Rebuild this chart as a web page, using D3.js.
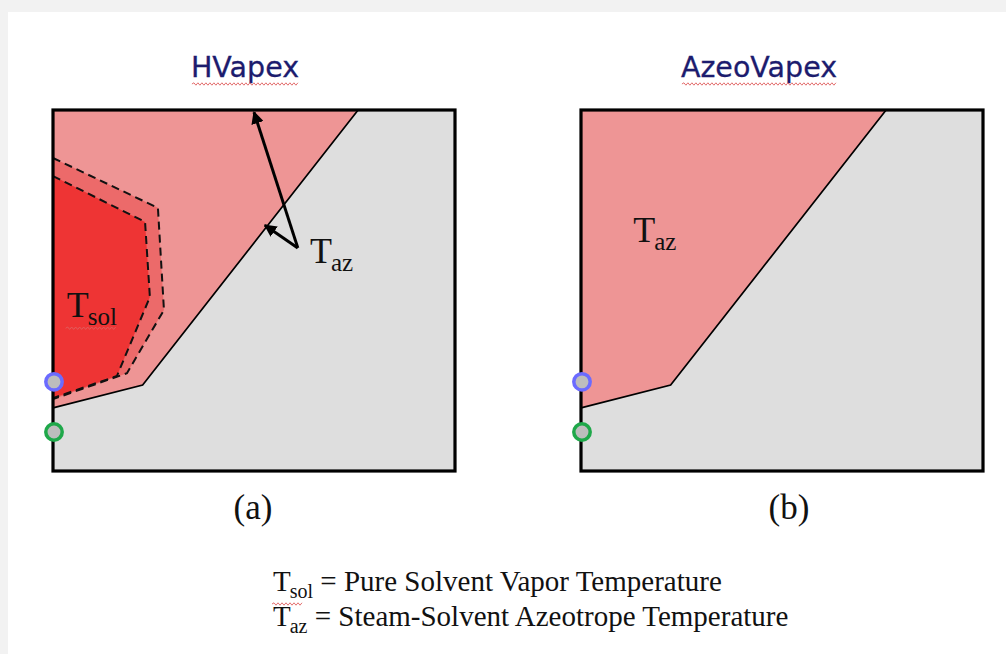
<!DOCTYPE html>
<html>
<head>
<meta charset="utf-8">
<script src="https://cdn.jsdelivr.net/npm/d3@7"></script>
<style>
  html, body { margin: 0; padding: 0; background: #f2f2f2; }
  svg { display: block; }
</style>
</head>
<body>
<svg id="chart" width="1006" height="654"></svg>
<script>
// ---------- DATA (diagram coordinates, 0..100 on both axes) ----------
const panelIds    = ["a", "b"];
const panelTitles = ["HVapex", "AzeoVapex"];
const panelLabels = ["(a)", "(b)"];

// azeotrope-temperature region boundary (same in both panels)
const azBoundary = [[75.9, 100], [22.3, 23.8], [0, 17.5]];

// pure solvent vapour-temperature zone (panel a only)
const solOuter = [[0, 86.7], [26.1, 72.9], [27.6, 44.6], [18.4, 27.1], [0, 19.9]];
const solInner = [[0, 81.7], [22.9, 69.0], [24.1, 48.2], [15.9, 26.3], [0, 20.2]];

// well markers on the left edge: [y, kind]
const wellY     = [24.7, 10.8];
const wellKinds = ["injector", "producer"];

// arrows in panel a: from vertex to tips
const arrowFrom = [60.9, 61.8];
const arrowTips = [[50.0, 99.4], [52.7, 68.1]];

// region labels
const labelMain = ["T", "T", "T"];
const labelSub  = ["az", "sol", "az"];
const labelPanel = ["a", "a", "b"];
const labelPos  = [[63.9, 57.6], [3.4, 42.6], [13.0, 63.4]];

// legend
const legendSym  = ["sol", "az"];
const legendText = [" = Pure Solvent Vapor Temperature", " = Steam-Solvent Azeotrope Temperature"];

// ---------- LAYOUT ----------
const W = 1006, H = 654;
const boxW = 402, boxH = 361, boxTop = 110;
const boxLeft = { a: 53, b: 581 };
const titleX = { a: 245, b: 759 };
const subLabelX = { a: 253, b: 789 };

const svg = d3.select("#chart");
svg.append("rect").attr("width", W).attr("height", H).attr("fill", "#f2f2f2");
svg.append("rect").attr("x", 8).attr("y", 12).attr("width", W - 8).attr("height", H - 12).attr("fill", "#ffffff");

const defs = svg.append("defs");
defs.append("marker")
  .attr("id", "arrowhead")
  .attr("viewBox", "0 0 10 10")
  .attr("refX", 9).attr("refY", 5)
  .attr("markerWidth", 4.2).attr("markerHeight", 4.2)
  .attr("orient", "auto")
  .append("path").attr("d", "M0,0 L10,5 L0,10 z").attr("fill", "#000");

function wavy(g, x0, x1, y) {
  let d = `M${x0},${y}`;
  let up = true;
  for (let x = x0 + 2; x <= x1; x += 2) { d += ` L${x},${y + (up ? -1.2 : 1.2)}`; up = !up; }
  g.append("path").attr("d", d).attr("fill", "none").attr("stroke", "#e06060").attr("stroke-width", 0.9);
}

panelIds.forEach((id, i) => {
  const x = d3.scaleLinear().domain([0, 100]).range([boxLeft[id], boxLeft[id] + boxW]);
  const y = d3.scaleLinear().domain([0, 100]).range([boxTop + boxH, boxTop]);
  const g = svg.append("g");
  const line = d3.line().x(d => x(d[0])).y(d => y(d[1]));

  // grey background
  g.append("rect").attr("x", x(0)).attr("y", y(100)).attr("width", x(100) - x(0)).attr("height", y(0) - y(100))
    .attr("fill", "#dedede");

  // azeotrope region polygon
  const azPoly = [[0, 100]].concat(azBoundary);
  g.append("path").attr("d", line(azPoly) + "Z").attr("fill", "#ee9595");
  g.append("path").attr("d", line(azBoundary)).attr("fill", "none").attr("stroke", "#000").attr("stroke-width", 1.7);

  if (id === "a") {
    g.append("path").attr("d", line(solOuter) + "Z").attr("fill", "#ec6a6a");
    g.append("path").attr("d", line(solInner) + "Z").attr("fill", "#ee3434");
    [solOuter, solInner].forEach(p => {
      g.append("path").attr("d", line(p)).attr("fill", "none").attr("stroke", "#111")
        .attr("stroke-width", 2).attr("stroke-dasharray", "8,5");
    });
    arrowTips.forEach(t => {
      g.append("line")
        .attr("x1", x(arrowFrom[0])).attr("y1", y(arrowFrom[1]))
        .attr("x2", x(t[0])).attr("y2", y(t[1]))
        .attr("stroke", "#000").attr("stroke-width", 3)
        .attr("stroke-linejoin", "miter")
        .attr("marker-end", "url(#arrowhead)");
    });
  }

  // box frame
  g.append("rect").attr("x", x(0)).attr("y", y(100)).attr("width", x(100) - x(0)).attr("height", y(0) - y(100))
    .attr("fill", "none").attr("stroke", "#000").attr("stroke-width", 3.2);

  // wells
  wellY.forEach((wy, k) => {
    g.append("circle").attr("cx", x(0) + 1).attr("cy", y(wy)).attr("r", 8.2)
      .attr("fill", "#bdbdbd")
      .attr("stroke", wellKinds[k] === "injector" ? "#6b6bff" : "#1fa84a")
      .attr("stroke-width", 3.5);
  });

  // labels
  labelMain.forEach((m, k) => {
    if (labelPanel[k] !== id) return;
    const t = g.append("text").attr("x", x(labelPos[k][0])).attr("y", y(labelPos[k][1]))
      .attr("font-family", "Liberation Serif, Times New Roman, serif").attr("font-size", 36).attr("fill", "#111");
    t.append("tspan").text(m);
    t.append("tspan").attr("font-size", 25).attr("dy", 8).attr("dx", -1).text(labelSub[k]);
    if (labelSub[k] === "sol") {
      const px = x(labelPos[k][0]);
      wavy(g, px - 1, px + 50, y(labelPos[k][1]) + 11);
    }
  });

  // title
  const tt = svg.append("text").attr("x", titleX[id]).attr("y", 77).attr("text-anchor", "middle")
    .attr("font-family", "DejaVu Sans, Verdana, sans-serif").attr("font-size", 28.5)
    .attr("fill", "#1c1c6e").attr("stroke", "#1c1c6e").attr("stroke-width", 0.3)
    .text(panelTitles[i]);
  const bb = tt.node().getBBox();
  wavy(svg, bb.x + 1, bb.x + bb.width - 1, 84);

  // sub label
  svg.append("text").attr("x", subLabelX[id]).attr("y", 519).attr("text-anchor", "middle")
    .attr("font-family", "Liberation Serif, Times New Roman, serif").attr("font-size", 35)
    .attr("fill", "#111").text(panelLabels[i]);
});

// legend
legendSym.forEach((s, k) => {
  const ly = 591 + k * 35;
  const t = svg.append("text").attr("x", 273).attr("y", ly)
    .attr("font-family", "Liberation Serif, Times New Roman, serif").attr("font-size", 29).attr("fill", "#111");
  t.append("tspan").text("T");
  t.append("tspan").attr("font-size", 20).attr("dy", 7).attr("dx", -1).text(s);
  t.append("tspan").attr("dy", -7).text(legendText[k]);
  if (s === "sol") wavy(svg, 272, 302, ly + 13);
});
</script>
</body>
</html>
